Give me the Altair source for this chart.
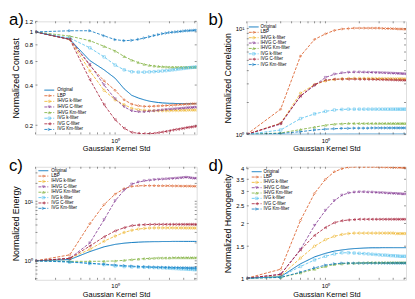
import altair as alt
import pandas as pd

# ---------------- data ----------------
S = [0.2, 0.4, 0.6, 0.8, 1.0, 1.2, 1.4, 1.6, 1.8, 2.0, 2.2, 2.4, 2.6, 2.8, 3.0,
     3.2, 3.4, 3.6, 3.8, 4.0, 4.2, 4.4, 4.6, 4.8, 5.0, 5.2]

SERIES = ["Original", "LBP", "IHVG k-filter", "IHVG C-filter", "IHVG Km-filter",
          "IVG k-filter", "IVG C-filter", "IVG Km-filter"]
COLORS = ["#0072BD", "#D95319", "#EDB120", "#7E2F8E", "#77AC30",
          "#4DBEEE", "#A2142F", "#0072BD"]
SHAPES = ["stroke", "diamond", "circle", "triangle-down", "triangle-up",
          "square", "triangle-left", "triangle-right"]

contrast_original = [1.0, 0.88, 0.61, 0.52, 0.45, 0.375, 0.335, 0.32, 0.31, 0.303, 0.299, 0.296, 0.294, 0.293, 0.292, 0.292, 0.291, 0.291, 0.291, 0.29, 0.29, 0.29, 0.29, 0.29, 0.29, 0.29]
contrast_lbp = [1.0, 0.88, 0.56, 0.43, 0.365, 0.31, 0.288, 0.28, 0.277, 0.277, 0.278, 0.279, 0.28, 0.281, 0.282, 0.283, 0.284, 0.285, 0.286, 0.287, 0.288, 0.288, 0.289, 0.29, 0.29, 0.29]
contrast_ihvg_k = [1.0, 0.88, 0.51, 0.365, 0.31, 0.285, 0.268, 0.262, 0.259, 0.258, 0.257, 0.257, 0.257, 0.257, 0.257, 0.258, 0.258, 0.258, 0.259, 0.259, 0.259, 0.26, 0.26, 0.26, 0.26, 0.26]
contrast_ihvg_c = [1.0, 0.88, 0.57, 0.4, 0.315, 0.275, 0.256, 0.252, 0.252, 0.254, 0.256, 0.258, 0.26, 0.262, 0.263, 0.264, 0.265, 0.266, 0.267, 0.268, 0.269, 0.27, 0.27, 0.271, 0.272, 0.272]
contrast_ihvg_km = [1.0, 0.93, 0.86, 0.78, 0.72, 0.655, 0.615, 0.59, 0.572, 0.562, 0.556, 0.552, 0.549, 0.547, 0.546, 0.545, 0.545, 0.545, 0.545, 0.545, 0.545, 0.545, 0.545, 0.545, 0.545, 0.545]
contrast_ivg_k = [1.0, 0.9, 0.76, 0.65, 0.565, 0.52, 0.503, 0.5, 0.5, 0.502, 0.504, 0.507, 0.51, 0.513, 0.516, 0.52, 0.523, 0.527, 0.53, 0.533, 0.536, 0.539, 0.541, 0.543, 0.545, 0.547]
contrast_ivg_c = [1.0, 0.88, 0.44, 0.285, 0.22, 0.19, 0.177, 0.174, 0.173, 0.173, 0.174, 0.176, 0.178, 0.18, 0.182, 0.184, 0.186, 0.187, 0.189, 0.19, 0.192, 0.193, 0.194, 0.195, 0.196, 0.197]
contrast_ivg_km = [1.0, 1.02, 1.02, 0.935, 0.875, 0.86, 0.865, 0.88, 0.9, 0.92, 0.94, 0.955, 0.97, 0.98, 0.99, 0.995, 1.0, 1.005, 1.01, 1.015, 1.02, 1.02, 1.025, 1.025, 1.03, 1.03]

corr_original = [1.0, 1.0, 1.001, 1.002, 1.003, 1.003, 1.004, 1.004, 1.004, 1.004, 1.005, 1.005, 1.005, 1.005, 1.005, 1.005, 1.005, 1.005, 1.005, 1.005, 1.005, 1.005, 1.005, 1.005, 1.005, 1.005]
corr_lbp = [1.0, 1.73, 5.5, 7.9, 8.9, 9.6, 9.9, 10.0, 10.1, 10.1, 10.1, 10.1, 10.1, 10.1, 10.1, 10.05, 10.0, 10.0, 10.0, 9.95, 9.95, 9.9, 9.9, 9.9, 9.85, 9.85]
corr_ihvg_k = [1.0, 1.27, 2.45, 2.95, 3.2, 3.3, 3.35, 3.37, 3.38, 3.38, 3.38, 3.38, 3.38, 3.37, 3.37, 3.37, 3.36, 3.36, 3.36, 3.35, 3.35, 3.35, 3.35, 3.35, 3.34, 3.34]
corr_ihvg_c = [1.0, 1.25, 2.3, 2.9, 3.45, 3.7, 3.8, 3.85, 3.87, 3.87, 3.86, 3.85, 3.84, 3.83, 3.82, 3.81, 3.8, 3.79, 3.78, 3.77, 3.76, 3.75, 3.74, 3.73, 3.72, 3.71]
corr_ihvg_km = [1.0, 1.03, 1.11, 1.17, 1.22, 1.25, 1.26, 1.27, 1.27, 1.27, 1.27, 1.27, 1.27, 1.27, 1.27, 1.27, 1.27, 1.27, 1.27, 1.27, 1.27, 1.27, 1.27, 1.27, 1.27, 1.27]
corr_ivg_k = [1.0, 1.1, 1.41, 1.56, 1.65, 1.7, 1.72, 1.73, 1.73, 1.73, 1.73, 1.73, 1.73, 1.73, 1.73, 1.73, 1.73, 1.73, 1.73, 1.73, 1.73, 1.73, 1.73, 1.73, 1.73, 1.73]
corr_ivg_c = [1.0, 1.27, 2.3, 2.95, 3.25, 3.32, 3.33, 3.33, 3.33, 3.32, 3.32, 3.31, 3.31, 3.3, 3.3, 3.29, 3.29, 3.28, 3.28, 3.27, 3.27, 3.26, 3.26, 3.25, 3.25, 3.24]
corr_ivg_km = [1.0, 1.02, 1.06, 1.1, 1.12, 1.13, 1.14, 1.14, 1.145, 1.145, 1.145, 1.145, 1.15, 1.15, 1.15, 1.15, 1.15, 1.15, 1.15, 1.15, 1.15, 1.15, 1.15, 1.15, 1.15, 1.15]

energy_original = [1.0, 1.05, 1.43, 1.72, 1.89, 1.98, 2.03, 2.06, 2.08, 2.09, 2.1, 2.1, 2.11, 2.11, 2.11, 2.12, 2.12, 2.12, 2.12, 2.12, 2.12, 2.12, 2.12, 2.12, 2.12, 2.12]
energy_lbp = [1.0, 1.26, 4.2, 8.8, 13.2, 16.3, 17.8, 18.2, 18.3, 18.3, 18.3, 18.2, 18.2, 18.2, 18.2, 18.1, 18.1, 18.1, 18.0, 18.0, 18.0, 18.0, 18.0, 17.9, 17.9, 17.9]
energy_ihvg_k = [1.0, 1.1, 1.56, 2.14, 2.6, 3.0, 3.26, 3.42, 3.5, 3.55, 3.57, 3.58, 3.58, 3.58, 3.58, 3.58, 3.57, 3.57, 3.57, 3.57, 3.56, 3.56, 3.56, 3.56, 3.55, 3.55]
energy_ihvg_c = [1.0, 1.1, 2.0, 4.9, 10.2, 15.4, 19.4, 21.0, 22.0, 22.5, 23.0, 23.3, 23.5, 23.7, 23.9, 24.1, 24.3, 24.5, 24.7, 25.0, 25.2, 25.0, 24.6, 24.3, 24.2, 24.2]
energy_ihvg_km = [1.0, 0.98, 0.98, 0.985, 0.995, 1.02, 1.05, 1.07, 1.09, 1.1, 1.11, 1.12, 1.12, 1.12, 1.12, 1.13, 1.13, 1.13, 1.13, 1.13, 1.13, 1.13, 1.13, 1.13, 1.13, 1.13]
energy_ivg_k = [1.0, 0.95, 0.9, 0.86, 0.82, 0.8, 0.79, 0.785, 0.78, 0.775, 0.77, 0.765, 0.76, 0.755, 0.75, 0.745, 0.74, 0.735, 0.73, 0.73, 0.725, 0.72, 0.72, 0.715, 0.71, 0.71]
energy_ivg_c = [1.0, 1.1, 1.77, 2.53, 3.18, 3.6, 3.9, 4.0, 4.05, 4.08, 4.1, 4.1, 4.1, 4.1, 4.1, 4.1, 4.1, 4.1, 4.1, 4.1, 4.1, 4.1, 4.1, 4.1, 4.1, 4.1]
energy_ivg_km = [1.0, 0.96, 0.91, 0.88, 0.85, 0.83, 0.815, 0.8, 0.795, 0.79, 0.785, 0.78, 0.78, 0.775, 0.775, 0.77, 0.77, 0.77, 0.765, 0.765, 0.765, 0.76, 0.76, 0.76, 0.76, 0.76]

homog_original = [1.0, 1.02, 1.2, 1.31, 1.37, 1.41, 1.43, 1.445, 1.455, 1.46, 1.465, 1.468, 1.47, 1.47, 1.47, 1.472, 1.472, 1.472, 1.472, 1.472, 1.472, 1.472, 1.472, 1.472, 1.472, 1.472]
homog_lbp = [1.0, 1.12, 2.08, 2.93, 3.5, 3.85, 4.0, 4.08, 4.1, 4.1, 4.1, 4.1, 4.1, 4.1, 4.09, 4.09, 4.08, 4.08, 4.07, 4.07, 4.06, 4.06, 4.06, 4.05, 4.05, 4.05]
homog_ihvg_k = [1.0, 1.03, 1.29, 1.5, 1.63, 1.7, 1.74, 1.76, 1.77, 1.77, 1.77, 1.77, 1.77, 1.77, 1.77, 1.77, 1.77, 1.77, 1.77, 1.77, 1.76, 1.76, 1.76, 1.76, 1.76, 1.76]
homog_ihvg_c = [1.0, 1.05, 1.44, 1.95, 2.36, 2.67, 2.86, 2.94, 2.97, 2.98, 2.98, 2.97, 2.97, 2.96, 2.95, 2.95, 2.94, 2.93, 2.93, 2.92, 2.92, 2.91, 2.91, 2.9, 2.9, 2.9]
homog_ihvg_km = [1.0, 1.01, 1.07, 1.12, 1.16, 1.19, 1.2, 1.21, 1.21, 1.215, 1.215, 1.22, 1.22, 1.22, 1.22, 1.22, 1.22, 1.22, 1.22, 1.22, 1.22, 1.22, 1.22, 1.22, 1.22, 1.22]
homog_ivg_k = [1.0, 1.02, 1.16, 1.26, 1.32, 1.36, 1.38, 1.38, 1.375, 1.37, 1.365, 1.36, 1.355, 1.35, 1.345, 1.34, 1.34, 1.335, 1.33, 1.33, 1.325, 1.325, 1.32, 1.32, 1.32, 1.32]
homog_ivg_c = [1.0, 1.05, 1.43, 1.72, 1.9, 2.02, 2.07, 2.09, 2.1, 2.11, 2.11, 2.11, 2.11, 2.11, 2.11, 2.11, 2.11, 2.11, 2.11, 2.11, 2.11, 2.11, 2.11, 2.11, 2.11, 2.11]
homog_ivg_km = [1.0, 1.01, 1.08, 1.14, 1.18, 1.2, 1.21, 1.21, 1.21, 1.21, 1.21, 1.21, 1.21, 1.21, 1.21, 1.21, 1.21, 1.21, 1.21, 1.21, 1.21, 1.21, 1.21, 1.21, 1.21, 1.21]

X_MINOR = [0.2, 0.3, 0.4, 0.5, 0.6, 0.7, 0.8, 0.9, 1, 2, 3, 4, 5]

# ---------------- styling ----------------
FONT = "Liberation Sans"
TXT = "#262626"
H = 115
DASH = alt.condition(alt.datum.series == "Original",
                     alt.value([1, 0]), alt.value([3, 1.5]))
SW = alt.condition(alt.datum.series == "Original",
                   alt.value(1.0), alt.value(0.8))


def panel(series_vals, letter, ytitle, ydom, yvals, ylabel_expr, yticks, W,
          leg, letter_x):
    rows = []
    for name, vals in zip(SERIES, series_vals):
        for s, v in zip(S, vals):
            rows.append({"s": s, "v": v, "series": name})
    df = pd.DataFrame(rows)

    xs = alt.Scale(type="log", domain=[0.2, 5.2], nice=False)
    ys = alt.Scale(type="log", domain=ydom, nice=False)
    xaxis = alt.Axis(values=[1], labelExpr="'10⁰'", tickSize=0, domain=False,
                     grid=False, labelFontSize=6, labelPadding=3,
                     title="Gaussian Kernel Std", titleFontSize=7.5,
                     titlePadding=1.5, titleFontWeight="normal")
    yaxis_kw = dict(values=yvals, tickSize=0, domain=False, grid=False,
                    labelFontSize=6, labelPadding=3, title=ytitle,
                    titleFontSize=9, titleFontWeight="normal", titleX=-15,
                    titleY=H / 2, titleAngle=270, titleBaseline="bottom",
                    titleAlign="center")
    if ylabel_expr:
        yaxis_kw["labelExpr"] = ylabel_expr
    else:
        yaxis_kw["format"] = "~g"
    yaxis = alt.Axis(**yaxis_kw)

    color = alt.Color("series:N", scale=alt.Scale(domain=SERIES, range=COLORS),
                      legend=None)
    shape = alt.Shape("series:N", scale=alt.Scale(domain=SERIES, range=SHAPES),
                      legend=None)
    X = alt.X("s:Q", scale=xs, axis=xaxis)
    Y = alt.Y("v:Q", scale=ys, axis=yaxis)
    Yn = alt.Y("v:Q", scale=ys, axis=None)

    base = alt.Chart(df)
    lines = base.mark_line(clip=True).encode(
        x=X, y=Y, color=color, order="s:Q", strokeDash=DASH, strokeWidth=SW)
    pts = base.transform_filter(alt.datum.series != "Original").mark_point(
        filled=False, size=6, strokeWidth=0.7, clip=True
    ).encode(x=X, y=Yn, color=color, shape=shape)

    xt = alt.Chart(pd.DataFrame({"s": X_MINOR}))
    xt_b = xt.mark_rule(color=TXT, strokeWidth=0.5).encode(
        x=X, y=alt.value(H), y2=alt.value(H - 2))
    xt_t = xt.mark_rule(color=TXT, strokeWidth=0.5).encode(
        x=X, y=alt.value(0), y2=alt.value(2))
    yt = alt.Chart(pd.DataFrame({"v": yticks}))
    yt_l = yt.mark_rule(color=TXT, strokeWidth=0.5).encode(
        y=Yn, x=alt.value(0), x2=alt.value(2))
    yt_r = yt.mark_rule(color=TXT, strokeWidth=0.5).encode(
        y=Yn, x=alt.value(W), x2=alt.value(W - 2))

    # legend drawn as marks, rows placed by a point scale
    seg0, seg1, labx, ry0, ry1 = leg
    ldf = alt.Chart(pd.DataFrame({"series": SERIES}))
    LY = alt.Y("series:N", axis=None,
               scale=alt.Scale(type="point", domain=SERIES, range=[ry0, ry1],
                               padding=0))
    l_seg = ldf.mark_rule().encode(
        y=LY, x=alt.value(seg0), x2=alt.value(seg1), color=color,
        strokeDash=DASH, strokeWidth=SW)
    l_pt = ldf.transform_filter(alt.datum.series != "Original").mark_point(
        filled=False, size=6, strokeWidth=0.7
    ).encode(y=LY, x=alt.value((seg0 + seg1) / 2), color=color, shape=shape)
    l_txt = ldf.mark_text(align="left", baseline="middle", fontSize=4.6,
                          font=FONT, color="#000000").encode(
        y=LY, x=alt.value(labx), text="series:N")

    lab = alt.Chart(pd.DataFrame({"t": [letter]})).mark_text(
        align="left", baseline="top", fontSize=17, font=FONT, color="#000000"
    ).encode(text="t:N", x=alt.value(letter_x), y=alt.value(-9))

    return alt.layer(lines, xt_b, xt_t, yt_l, yt_r, pts, l_seg, l_pt, l_txt,
                     lab).resolve_scale(y="independent").properties(
        width=W, height=H)


pa = panel([contrast_original, contrast_lbp, contrast_ihvg_k, contrast_ihvg_c,
            contrast_ihvg_km, contrast_ivg_k, contrast_ivg_c, contrast_ivg_km],
           "a)", "Normalized Contrast", [0.171, 1.2],
           [0.2, 0.4, 0.6, 0.8, 1, 1.2], None,
           [0.2, 0.4, 0.6, 0.8, 1, 1.2], 164, (9, 19, 22, 70, 110), -27)

pb = panel([corr_original, corr_lbp, corr_ihvg_k, corr_ihvg_c, corr_ihvg_km,
            corr_ivg_k, corr_ivg_c, corr_ivg_km],
           "b)", "Normalized Correlation", [1, 11.7], [1, 10],
           "datum.value < 5 ? '10⁰' : '10¹'",
           [1, 2, 3, 4, 5, 6, 7, 8, 9, 10], 162, (2, 12, 14, 5.7, 44), -39)

pc = panel([energy_original, energy_lbp, energy_ihvg_k, energy_ihvg_c,
            energy_ihvg_km, energy_ivg_k, energy_ivg_c, energy_ivg_km],
           "c)", "Normalized Energy", [0.48, 38], [1, 10],
           "datum.value < 5 ? '10⁰' : '10¹'",
           [0.5, 0.6, 0.7, 0.8, 0.9, 1, 2, 3, 4, 5, 6, 7, 8, 9, 10, 20, 30],
           164, (3, 13, 16, 4, 42.3), -27)

pd_ = panel([homog_original, homog_lbp, homog_ihvg_k, homog_ihvg_c,
             homog_ihvg_km, homog_ivg_k, homog_ivg_c, homog_ivg_km],
            "d)", "Normalized Homogeneity", [0.98, 4.1],
            [1, 1.5, 2, 2.5, 3, 3.5, 4], None,
            [1, 1.5, 2, 2.5, 3, 3.5, 4], 162, (5, 15, 17, 5, 43), -39)

chart = alt.concat(pa, pb, pc, pd_, columns=2,
                   spacing={"row": 33, "column": 51}).properties(
    bounds="flush", padding=0
).resolve_scale(
    x="independent", y="independent", color="independent", shape="independent"
).configure_view(
    stroke=TXT, strokeWidth=0.6
).configure_axis(
    labelFont=FONT, titleFont=FONT, labelColor=TXT, titleColor=TXT
).configure(background="white")

chart.save("out.html", embed_options={"renderer": "svg", "actions": False})
